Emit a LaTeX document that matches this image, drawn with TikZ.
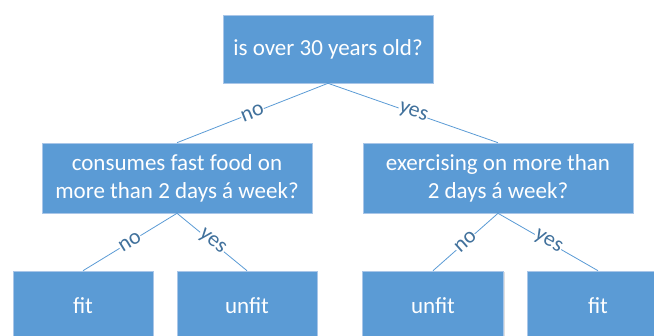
\documentclass[tikz,border=0pt]{standalone}
\usepackage{fontspec}
\setmainfont{Carlito}
\usetikzlibrary{shadows}
\definecolor{boxblue}{HTML}{5B9BD5}
\definecolor{boxedge}{HTML}{A9C6E8}
\definecolor{lblblue}{HTML}{41719C}
\tikzset{
  dbox/.style={rectangle, fill=boxblue, draw=boxedge, line width=0.6pt, text=white,
    font=\fontsize{23}{28}\selectfont, align=center, inner sep=0pt,
    drop shadow={shadow xshift=1pt, shadow yshift=-1.5pt, opacity=0.25, fill=gray}},
  conn/.style={draw=boxblue, line width=0.8pt},
  elbl/.style={midway, sloped, fill=white, text=lblblue, inner sep=0.5pt,
    font=\fontsize{22}{24}\selectfont}
}
\begin{document}
\begin{tikzpicture}[x=1pt,y=-1pt]
\useasboundingbox (0,0) rectangle (654,336);
\node[dbox, minimum width=210pt, minimum height=68pt] (root) at (328,49) {is over 30 years old?};
\node[dbox, minimum width=270pt, minimum height=70pt] (left) at (177,178) {consumes fast food on\\more than 2 days á week?};
\node[dbox, minimum width=270pt, minimum height=70pt] (right) at (498,178) {exercising on more than\\2 days á week?};
\node[dbox, minimum width=140pt, minimum height=70pt] (ll) at (83,306) {fit};
\node[dbox, minimum width=140pt, minimum height=70pt] (lr) at (247,306) {unfit};
\node[dbox, minimum width=141pt, minimum height=70pt] (rl) at (433,306) {unfit};
\node[dbox, minimum width=142pt, minimum height=70pt] (rr) at (598,306) {fit};
\draw[conn] (root.south) -- node[elbl] (l1) {no} (left.north);
\draw[conn] (root.south) -- node[elbl] (l2) {yes} (right.north);
\draw[conn] (left.south) -- node[elbl] (l3) {no} (ll.north);
\draw[conn] (left.south) -- node[elbl] (l4) {yes} (lr.north);
\draw[conn] (right.south) -- node[elbl] (l5) {no} (rl.north);
\draw[conn] (right.south) -- node[elbl] (l6) {yes} (rr.north);
\end{tikzpicture}
\end{document}
